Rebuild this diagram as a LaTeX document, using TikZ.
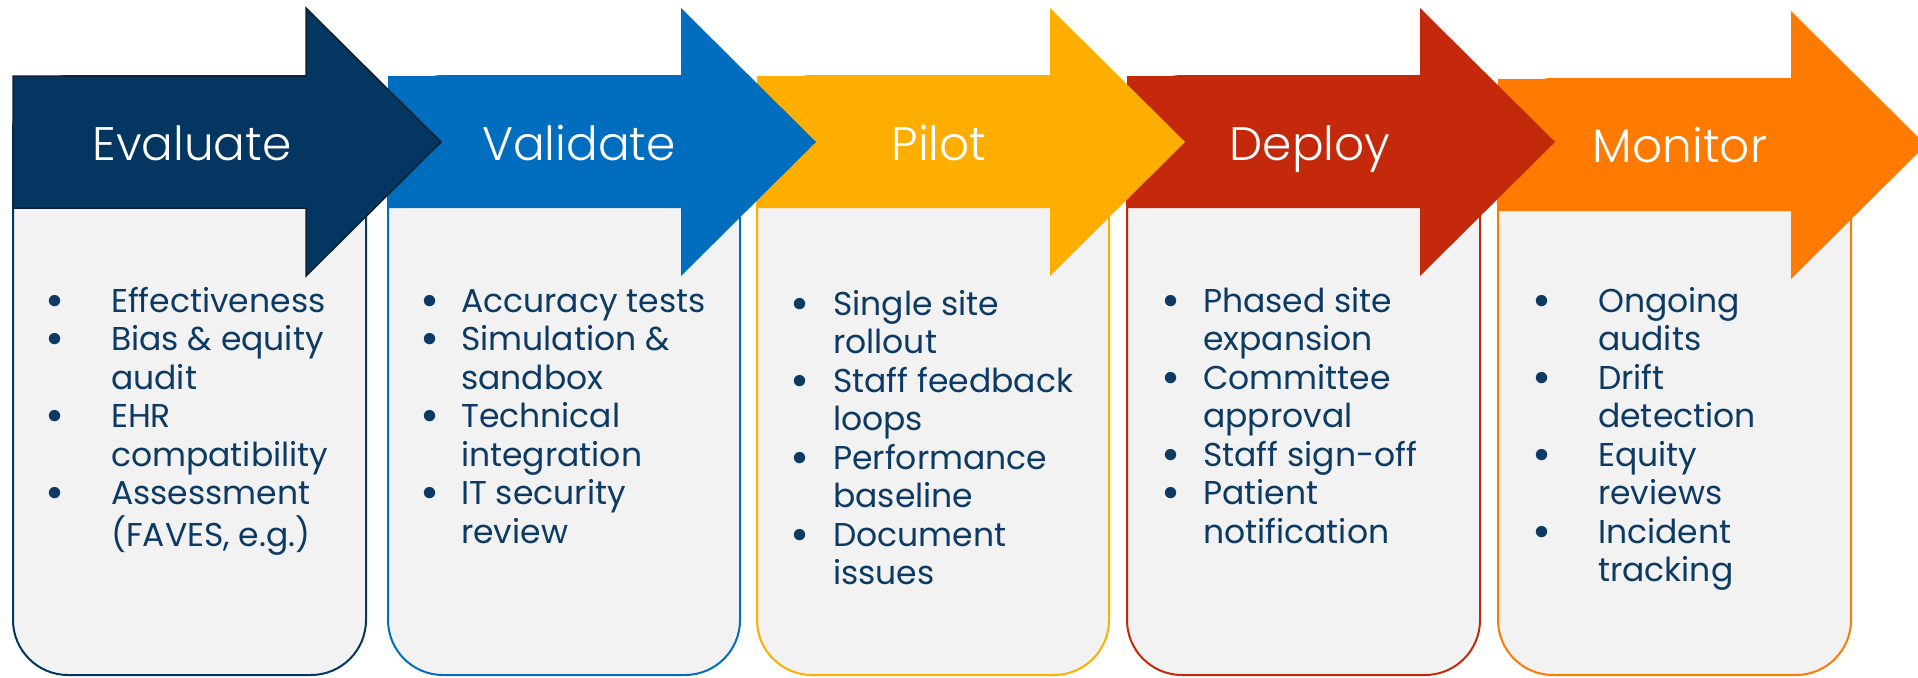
\documentclass[tikz,border=0pt]{standalone}
\usepackage{fontspec}
\usepackage{graphicx}
\setmainfont{Poppins}
\newfontfamily\titlefont{Poppins Light}

\definecolor{evalc}{HTML}{033660}
\definecolor{valc}{HTML}{006DBE}
\definecolor{pilc}{HTML}{FDAE00}
\definecolor{depc}{HTML}{C4290B}
\definecolor{monc}{HTML}{FF7A00}
\definecolor{panelgray}{HTML}{F2F2F2}
\definecolor{listtext}{HTML}{0C3A63}
\definecolor{evaledge}{HTML}{0E2035}

% bullet row: bullet centred on the row start, text indented by #1
\newcommand\itm[2]{\makebox[#1][l]{\makebox[0pt]{\raisebox{-4pt}{\scalebox{1.4}{\textbullet}}}}#2}
% continuation row of a bullet
\newcommand\more[2]{\hspace*{#1}#2}

\tikzset{
  panel/.style={fill=panelgray, line width=2pt, rounded corners=55pt},
  stagetitle/.style={font=\titlefont\fontsize{47}{56}\selectfont, text=white,
    anchor=base, inner sep=0pt},
  itemlist/.style={font=\fontsize{33}{38.5}\selectfont, text=listtext,
    anchor=base west, inner sep=0pt},
}

% chevron arrow: left edge #2, centre line #3
\newcommand\chevron[3][]{%
  \path[#1] (#2,#3-66) -- (#2+293,#3-66) -- (#2+293,#3-134) -- (#2+428,#3)
    -- (#2+293,#3+134) -- (#2+293,#3+66) -- (#2,#3+66) -- cycle;}

\begin{document}
\begin{tikzpicture}[x=1pt,y=-1pt]
\useasboundingbox (0,0) rectangle (1918,677);

% ---- Monitor ----
\path[panel, draw=monc] (1498,79) rectangle (1851,675);
\chevron[fill=monc]{1498}{145}
\node[stagetitle] (tmon) at (1680,162) {Monitor};
\node[itemlist] (lmon) at (1542,312) {\begin{tabular}[t]{@{}l@{}}
  \itm{56pt}{Ongoing}\\ \more{56pt}{audits}\\
  \itm{56pt}{Drift}\\ \more{56pt}{detection}\\
  \itm{56pt}{Equity}\\ \more{56pt}{reviews}\\
  \itm{56pt}{Incident}\\ \more{56pt}{tracking}
\end{tabular}};

% ---- Deploy ----
\path[panel, draw=depc] (1127,76) rectangle (1480,675);
\chevron[fill=depc]{1127}{142}
\node[stagetitle] (tdep) at (1310,160) {Deploy};
\node[itemlist] (ldep) at (1171,312) {\begin{tabular}[t]{@{}l@{}}
  \itm{32pt}{Phased site}\\ \more{32pt}{expansion}\\
  \itm{32pt}{Committee}\\ \more{32pt}{approval}\\
  \itm{32pt}{Staff sign-off}\\
  \itm{32pt}{Patient}\\ \more{32pt}{notification}
\end{tabular}};

% ---- Pilot ----
\path[panel, draw=pilc] (757,76) rectangle (1109,675);
\chevron[fill=pilc]{757}{142}
\node[stagetitle] (tpil) at (939,160) {Pilot};
\node[itemlist] (lpil) at (800,315) {\begin{tabular}[t]{@{}l@{}}
  \itm{33pt}{Single site}\\ \more{33pt}{rollout}\\
  \itm{33pt}{Staff feedback}\\ \more{33pt}{loops}\\
  \itm{33pt}{Performance}\\ \more{33pt}{baseline}\\
  \itm{33pt}{Document}\\ \more{33pt}{issues}
\end{tabular}};

% ---- Validate ----
\path[panel, draw=valc] (388,76) rectangle (740,675);
\chevron[fill=valc]{388}{142}
\node[stagetitle] (tval) at (579,160) {Validate};
\node[itemlist] (lval) at (430,312) {\begin{tabular}[t]{@{}l@{}}
  \itm{31pt}{Accuracy tests}\\
  \itm{31pt}{Simulation \&}\\ \more{31pt}{sandbox}\\
  \itm{31pt}{Technical}\\ \more{31pt}{integration}\\
  \itm{31pt}{IT security}\\ \more{31pt}{review}
\end{tabular}};

% ---- Evaluate ----
\path[panel, draw=evalc] (13,76) rectangle (366,675);
\chevron[fill=evalc, draw=evaledge, line width=1.5pt]{13}{142}
\node[stagetitle] (teva) at (192,160) {Evaluate};
\node[itemlist] (leva) at (55,312) {\begin{tabular}[t]{@{}l@{}}
  \itm{56pt}{Effectiveness}\\
  \itm{56pt}{Bias \& equity}\\ \more{56pt}{audit}\\
  \itm{56pt}{EHR}\\ \more{56pt}{compatibility}\\
  \itm{56pt}{Assessment}\\ \more{56pt}{(FAVES, e.g.)}
\end{tabular}};
\end{tikzpicture}
\end{document}
